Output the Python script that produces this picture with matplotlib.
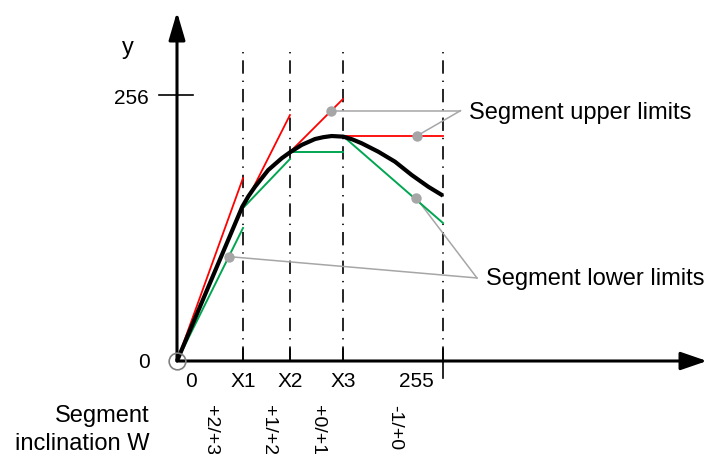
import matplotlib
matplotlib.use("Agg")
import matplotlib.pyplot as plt

plt.rcParams["font.family"] = ["Liberation Sans", "DejaVu Sans"]
plt.rcParams["lines.scale_dashes"] = False

# segment borders on the x axis (0..255 scale)
x_borders = [63.3, 108.3, 159.1, 255]
x_tick_labels = ["0", "X1", "X2", "X3", "255"]
x_tick_pos = [13.4, 63.3, 108.3, 159.1, 229.8]

# the transfer curve
curve_x = [0, 31.6, 62.6, 68.5, 74.8, 87.5, 100.4, 108.3, 119.5, 132.3, 140.3,
           148.3, 159.4, 168.0, 177.1, 193.0, 209.0, 225.0, 240.9, 255]
curve_y = [0, 75.0, 148.5, 158.6, 167.7, 183.8, 195.1, 200.8, 207.9, 213.6, 215.4,
           216.5, 215.9, 213.3, 209.5, 201.4, 191.8, 179.0, 167.7, 159.1]

# upper limit segments (start x, start y, end x, end y)
upper_x0 = [0, 63.3, 108.3, 159.1]
upper_y0 = [0, 147.2, 201.1, 216.5]
upper_x1 = [63.3, 108.3, 159.1, 255]
upper_y1 = [176.1, 236.7, 252.1, 216.5]

# lower limit segments
lower_x0 = [0, 63.3, 108.3, 159.1]
lower_y0 = [0, 147.2, 201.1, 216.5]
lower_x1 = [63.3, 108.3, 159.1, 255]
lower_y1 = [128.0, 194.4, 201.1, 132.8]

# inclination labels under the segments
incl_labels = ["+2/+3", "+1/+2", "+0/+1", "-1/+0"]
incl_pos = [32.4, 87.5, 134.7, 208.2]

# annotation markers
upper_marks_x = [147.6, 229.8]
upper_marks_y = [240.9, 216.5]
upper_join = (271.8, 240.9)
lower_marks_x = [50.3, 229.1]
lower_marks_y = [100.4, 157.2]
lower_join = (287.6, 79.9)

y_max = 256

red = "#ff0000"
green = "#00a651"
grey = "#a6a6a6"

fig = plt.figure(figsize=(7.08, 4.54), dpi=100)
ax = fig.add_axes([0, 0, 1, 1])
ax.set_xlim(-169.7, 509.1)
ax.set_ylim(-89.5, 347.4)
ax.axis("off")

# dash-dot segment borders
for xb in x_borders:
    ax.plot([xb, xb], [297.4, 0], color="black", lw=1.2,
            linestyle=(0, (1, 5, 9.6, 5)), zorder=1)
for xb in x_borders[:-1]:
    ax.plot([xb, xb], [0, 12], color="black", lw=1.2, zorder=1)
ax.plot([255, 255], [12, -16.4], color="black", lw=1.2, zorder=1)

# axes with arrows
ax.annotate("", xy=(0, 335.9), xytext=(0, 0),
            arrowprops=dict(arrowstyle="-|>,head_length=1.7,head_width=0.5",
                            mutation_scale=10, lw=2.2, color="black",
                            shrinkA=0, shrinkB=0), zorder=5)
ax.annotate("", xy=(508.1, 0), xytext=(0, 0),
            arrowprops=dict(arrowstyle="-|>,head_length=1.6,head_width=0.55",
                            mutation_scale=10, lw=2.2, color="black",
                            shrinkA=0, shrinkB=0), zorder=5)
ax.plot([-17.3, 15.3], [y_max, y_max], color="black", lw=1.2)

# limits
for i in range(len(upper_x0)):
    ax.plot([upper_x0[i], upper_x1[i]], [upper_y0[i], upper_y1[i]],
            color=red, lw=1.3, zorder=3)
    ax.plot([lower_x0[i], lower_x1[i]], [lower_y0[i], lower_y1[i]],
            color=green, lw=1.4, zorder=3)

ax.plot(curve_x, curve_y, color="black", lw=3, zorder=4,
        solid_joinstyle="round", solid_capstyle="butt")

# annotation lines and dots
for mx, my in zip(upper_marks_x, upper_marks_y):
    ax.plot([mx, upper_join[0]], [my, upper_join[1]], color=grey, lw=1.1, zorder=2)
for mx, my in zip(lower_marks_x, lower_marks_y):
    ax.plot([mx, lower_join[0]], [my, lower_join[1]], color=grey, lw=1.1, zorder=2)
ax.plot(upper_marks_x + lower_marks_x, upper_marks_y + lower_marks_y, "o",
        color=grey, ms=7.5, mec="none", zorder=6)
ax.plot([0], [0], "o", mfc="none", mec="#808080", mew=1.2, ms=12, zorder=6)

ax.text(279.8, 232.6, "Segment upper limits", fontsize=17, ha="left", va="baseline")
ax.text(295.8, 73.1, "Segment lower limits", fontsize=17, ha="left", va="baseline")

# axis texts
ax.text(-47.5, 295.4, "y", fontsize=17, ha="center", va="baseline")
ax.text(-27.5, 247.6, str(y_max), fontsize=15, ha="right", va="baseline")
ax.text(-25.9, -7.0, "0", fontsize=15, ha="right", va="baseline")
for lab, xp in zip(x_tick_labels, x_tick_pos):
    ax.text(xp, -24.7, lab, fontsize=15, ha="center", va="baseline")

ax.text(-25.9, -58.4, "Segment", fontsize=17, ha="right", va="baseline")
ax.text(-25.9, -85.7, "inclination W", fontsize=17, ha="right", va="baseline")
for lab, xp in zip(incl_labels, incl_pos):
    ax.text(xp, -42.3, lab, fontsize=14, rotation=270, ha="center", va="top")

fig.savefig("out.png", dpi=100)
